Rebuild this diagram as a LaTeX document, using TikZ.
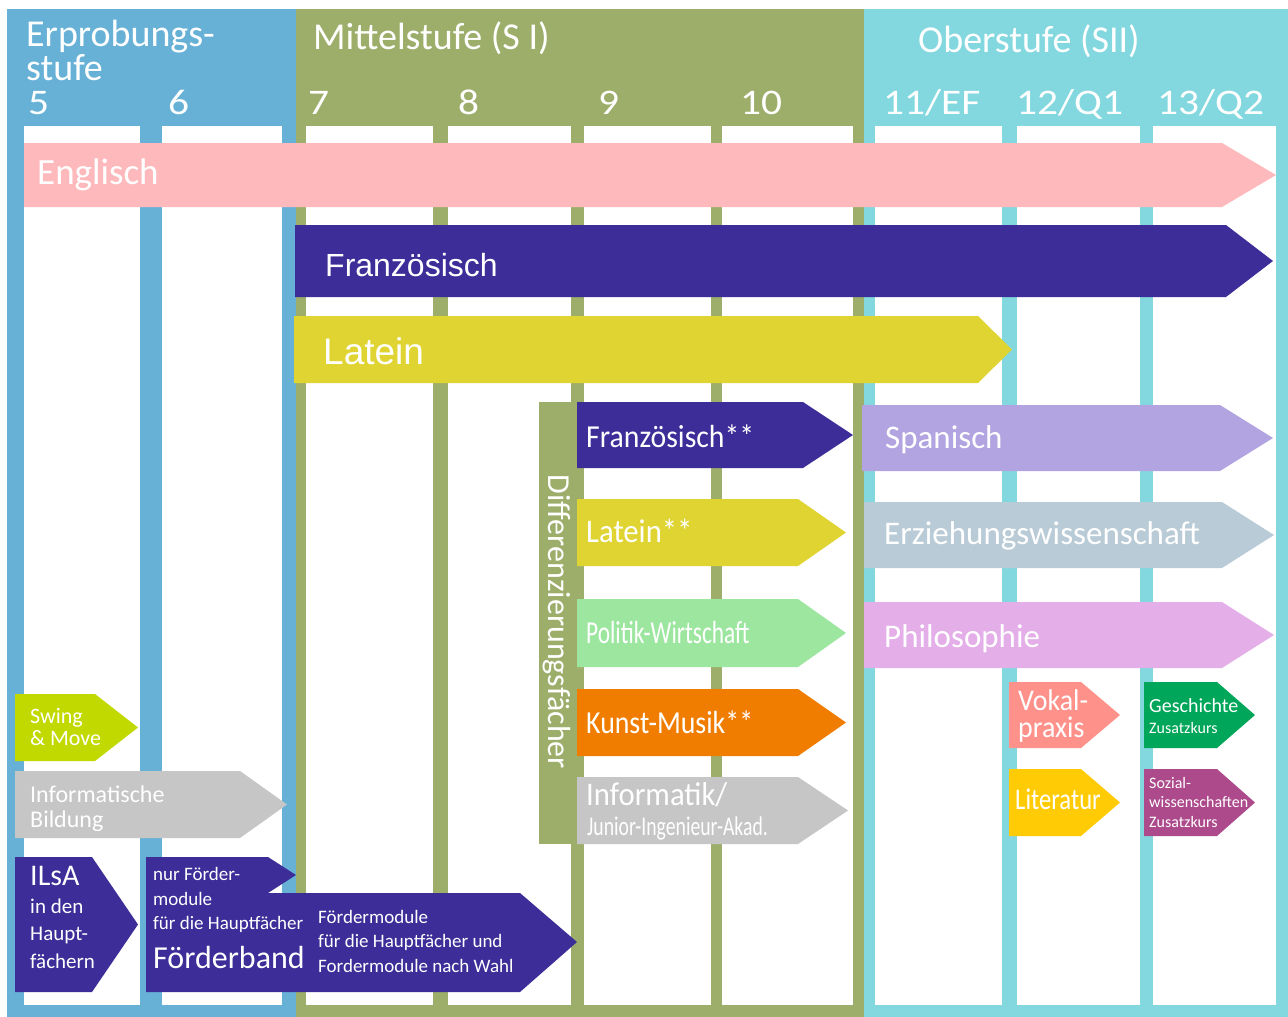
\documentclass[tikz,border=0pt]{standalone}
\usepackage{fontspec}
\setmainfont{Carlito}
\newfontfamily\arialfont{Liberation Sans}
\newfontfamily\condfont[FakeStretch=0.73]{Carlito}
\newfontfamily\narrowfont[FakeStretch=0.82]{Carlito}
\newfontfamily\midfont[FakeStretch=0.87]{Carlito}
\newfontfamily\semifont[FakeStretch=0.93]{Carlito}
\newfontfamily\widefont[FakeStretch=1.15]{Carlito}

\definecolor{erprobung}{HTML}{67B1D7}
\definecolor{mittel}{HTML}{9DAE6B}
\definecolor{ober}{HTML}{83D8DF}
\definecolor{englisch}{HTML}{FEB9BC}
\definecolor{lila}{HTML}{3D2D98}
\definecolor{latein}{HTML}{E0D432}
\definecolor{pw}{HTML}{9DE6A0}
\definecolor{kunst}{HTML}{F07D00}
\definecolor{grau}{HTML}{C6C6C6}
\definecolor{spanisch}{HTML}{B2A4E1}
\definecolor{erzw}{HTML}{B9CBD6}
\definecolor{philo}{HTML}{E4AFE9}
\definecolor{vokal}{HTML}{FE928A}
\definecolor{literatur}{HTML}{FFCB05}
\definecolor{geschichte}{HTML}{00A659}
\definecolor{sowi}{HTML}{AC4A8B}
\definecolor{swing}{HTML}{C2D900}

\newcommand{\fs}[2]{\fontsize{#1}{#2}\selectfont}
% pentagon arrow: colour, left, top, end of body, tip, bottom
\newcommand{\pfeil}[6]{\fill[#1] (#2,#3) -- (#4,#3) -- (#5,{(#3+#6)/2}) -- (#4,#6) -- (#2,#6) -- cycle;}

% base anchor of a multi-line node = baseline of its last line
\tikzset{
  kopf/.style={anchor=base west, inner sep=0pt, text=white, align=left, font=\fs{38}{32}},
  fach/.style={anchor=base west, inner sep=0pt, text=white, align=left},
}

\begin{document}
\begin{tikzpicture}[x=1pt, y=-1pt]
  \useasboundingbox (0,0) rectangle (1288,1017);

  % the three stages
  \fill[erprobung] (7,9) rectangle (296,1017);
  \fill[mittel] (296,9) rectangle (864,1017);
  \fill[ober] (864,9) rectangle (1288,1017);
  \foreach \l/\r in {24/140, 162/282, 306/433, 448/571, 584/711, 722/853, 875/1002, 1017/1140, 1153/1276}
    \fill[white] (\l,126) rectangle (\r,1005);

  \node[kopf] (erprobung) at (26,80) {Erprobungs-\\stufe};
  \node[kopf] (mittelstufe) at (313,49) {Mittelstufe (S I)};
  \node[kopf] (oberstufe) at (918,52) {Oberstufe (SII)};
  \foreach \x/\g [count=\i] in {28/5, 168/6, 308/7, 458/8, 598/9, 740/10, 883/{11/EF}, 1016/{12/Q1}, 1157/{13/Q2}}
    \node[kopf, font=\widefont\fs{36}{36}] (jg\i) at (\x,114) {\g};

  % languages through all years
  \pfeil{englisch}{24}{143}{1222}{1276}{207}
  \node[fach, font=\fs{37}{37}] (englisch) at (37,184) {Englisch};
  \pfeil{lila}{295}{225}{1226}{1273}{297}
  \node[fach, font=\arialfont\fs{32}{32}] (franz) at (325,276) {Französisch};
  \pfeil{latein}{294}{316}{978}{1012}{383}
  \node[fach, font=\arialfont\fs{37}{37}] (latein) at (323,364) {Latein};

  % Differenzierung
  \fill[mittel] (539,402) rectangle (577,844);
  \node[inner sep=0pt, text=white, rotate=-90, font=\fs{32}{32}] (diff) at (557,622) {Differenzierungsfächer};
  \pfeil{lila}{577}{402}{803}{853}{468}
  \node[fach, font=\semifont\fs{32}{32}] (franzwp) at (586,447) {Französisch**};
  \pfeil{latein}{577}{499}{798}{846}{566}
  \node[fach, font=\semifont\fs{33}{33}] (lateinwp) at (586,542) {Latein**};
  \pfeil{pw}{577}{599}{798}{846}{667}
  \node[fach, font=\condfont\fs{32}{32}] (pw) at (586,643) {Politik-Wirtschaft};
  \pfeil{kunst}{577}{689}{798}{846}{756}
  \node[fach, font=\midfont\fs{32}{32}] (kunst) at (586,733) {Kunst-Musik**};
  \pfeil{grau}{577}{777}{798}{848}{844}
  \node[fach, font=\semifont\fs{33}{33}] (informatik) at (586,805) {Informatik/};
  \node[fach, font=\condfont\fs{27}{27}] (akademie) at (587,835) {Junior-Ingenieur-Akad.};

  % Oberstufe
  \pfeil{spanisch}{862}{405}{1220}{1273}{471}
  \node[fach, font=\fs{33}{33}] (spanisch) at (885,448) {Spanisch};
  \pfeil{erzw}{864}{502}{1222}{1274}{568}
  \node[fach, font=\fs{33}{33}] (erzw) at (884,544) {Erziehungswissenschaft};
  \pfeil{philo}{864}{602}{1222}{1274}{668}
  \node[fach, font=\fs{33}{33}] (philo) at (884,647) {Philosophie};
  \pfeil{vokal}{1009}{682}{1081}{1120}{748}
  \node[fach, font=\semifont\fs{30}{27}] (vokal) at (1018,737) {Vokal-\\praxis};
  \pfeil{literatur}{1009}{769}{1081}{1120}{836}
  \node[fach, font=\narrowfont\fs{30}{30}] (literatur) at (1015,809) {Literatur};
  \pfeil{geschichte}{1144}{682}{1217}{1255}{748}
  \node[fach, font=\fs{16}{21}] (geschichte) at (1149,733) {{\fs{20}{20}Geschichte}\\Zusatzkurs};
  \pfeil{sowi}{1144}{769}{1217}{1255}{836}
  \node[fach, font=\fs{16}{19.5}] (sowi) at (1149,827) {Sozial-\\wissenschaften\\Zusatzkurs};

  % Erprobungsstufe
  \pfeil{swing}{15}{694}{95}{138}{761}
  \node[fach, font=\fs{22}{22}] (swing) at (30,745) {Swing\\\& Move};
  \pfeil{grau}{15}{771}{240}{287}{838}
  \node[fach, font=\fs{24}{25}] (infbildung) at (30,827) {Informatische\\Bildung};
  \pfeil{lila}{15}{857}{92}{138}{992}
  \node[fach, font=\fs{21}{27.5}] (ilsa) at (30,968) {{\fs{30}{30}ILsA}\\in den\\Haupt-\\fächern};

  % Foerderband
  \fill[lila] (146,857) -- (268,857) -- (296,875) -- (268,893) -- (520,893) -- (577,942) -- (520,992) -- (146,992) -- cycle;
  \node[fach, font=\fs{19}{24.5}] (foerderband) at (153,968) {nur Förder-\\module\\für die Hauptfächer\\[12pt]{\fs{32}{32}Förderband}};
  \node[fach, font=\fs{19}{24.5}] (module) at (318,972) {Fördermodule\\für die Hauptfächer und\\Fordermodule nach Wahl};
\end{tikzpicture}
\end{document}
